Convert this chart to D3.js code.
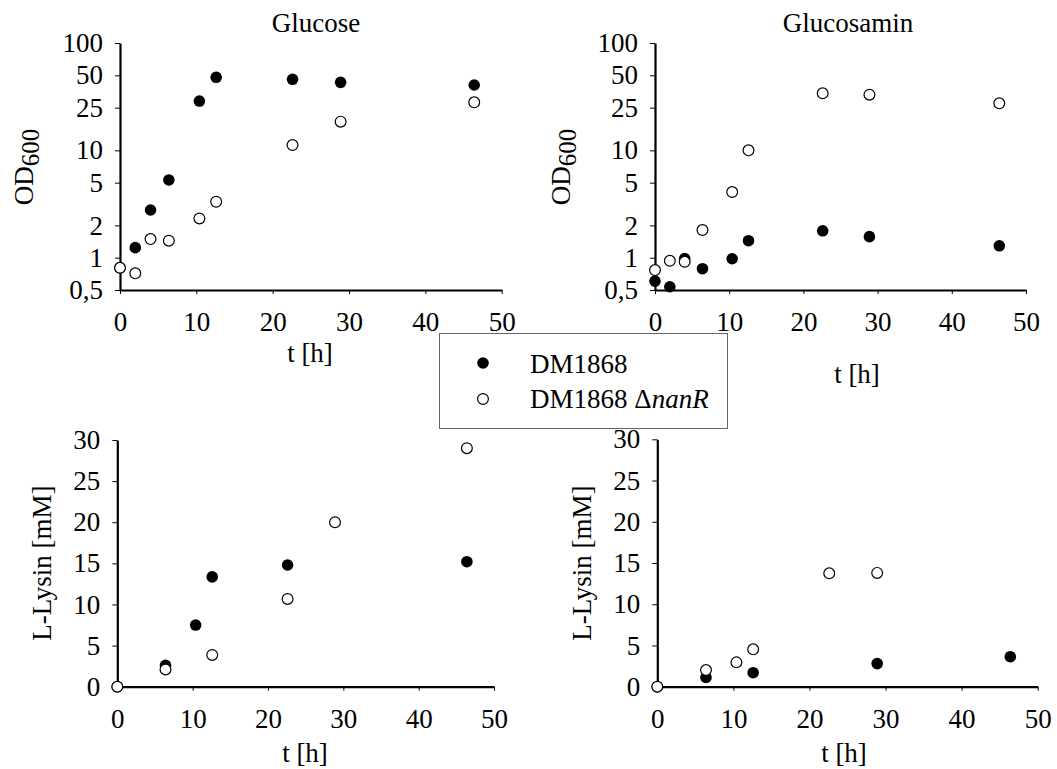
<!DOCTYPE html>
<html>
<head>
<meta charset="utf-8">
<script src="https://cdn.jsdelivr.net/npm/d3@7"></script>
<style>
  html, body { margin: 0; padding: 0; background: #fff; }
  svg { display: block; }
  svg text { font-family: 'Liberation Serif', 'DejaVu Serif', serif; fill: #000; }
</style>
</head>
<body>
<svg id="chart" width="1057" height="769"></svg>
<script>
// ---- data ----
const timesOD = [0, 2, 4, 6.4, 10.4, 12.6, 22.6, 28.9, 46.4];
const glucoseOD_DM = [0.805, 1.24, 2.78, 5.3, 28.8, 47.9, 45.9, 43, 40.6];
const glucoseOD_nanR = [0.805, 0.715, 1.49, 1.44, 2.32, 3.32, 11.2, 18.5, 28];
const glucosaminOD_DM = [0.605, 0.536, 0.98, 0.79, 0.977, 1.44, 1.78, 1.57, 1.29];
const glucosaminOD_nanR = [0.766, 0.935, 0.916, 1.81, 4.09, 10, 34, 33, 27.4];

const timesLys = [0, 6.4, 10.4, 12.6, 22.6, 28.9, 46.4];
const glucoseLys_DM = [0, 2.6, 7.5, 13.35, 14.8, null, 15.2];
const glucoseLys_nanR = [0, 2.1, null, 3.86, 10.67, 20.0, 29.0];
const glucosaminLys_DM = [0, 1.13, null, 1.7, null, 2.8, 3.64];
const glucosaminLys_nanR = [0, 2.02, 2.95, 4.53, 13.75, 13.8, null];

const xTicks = [0, 10, 20, 30, 40, 50];
const odTicks = [0.5, 1, 2, 5, 10, 25, 50, 100];
const lysTicks = [0, 5, 10, 15, 20, 25, 30];
const panelTitles = ["Glucose", "Glucosamin"];
const seriesNames = ["DM1868", "DM1868 \u0394", "nanR"];

// ---- drawing ----
const svg = d3.select("#chart");
const FS = 27;
const FONT = "'Liberation Serif', 'DejaVu Serif', serif";
const fmt = v => String(v).replace(".", ",");

function panel(cfg) {
  const g = svg.append("g");
  const x = d3.scaleLinear().domain([0, 50]).range([cfg.x0, cfg.x1]);
  const y = cfg.log
    ? d3.scaleLog().domain([0.5, 100]).range([cfg.y0, cfg.y1])
    : d3.scaleLinear().domain([0, 30]).range([cfg.y0, cfg.y1]);

  const xa = g.append("g").attr("transform", `translate(0,${cfg.y0})`)
    .call(d3.axisBottom(x).tickValues(xTicks).tickSize(4).tickSizeOuter(0).tickPadding(18));
  const ya = g.append("g").attr("transform", `translate(${cfg.x0},0)`)
    .call(d3.axisLeft(y).tickValues(cfg.log ? odTicks : lysTicks).tickFormat(fmt)
      .tickSize(5).tickSizeOuter(0).tickPadding(12));
  [xa, ya].forEach(a => {
    a.attr("font-family", FONT).attr("font-size", FS);
    a.select(".domain").attr("stroke", "#000").attr("stroke-width", 2.2);
    a.selectAll(".tick line").attr("stroke", "#000").attr("stroke-width", 1);
    a.selectAll("text").style("font-size", FS + "px").style("font-family", FONT).attr("fill", "#000");
  });

  g.append("text").attr("x", cfg.xtX).attr("y", cfg.xtY)
    .attr("text-anchor", "middle").style("font-size", FS + "px").text("t [h]");
  const yt = g.append("text")
    .attr("transform", `translate(${cfg.ytX},${cfg.ytY}) rotate(-90)`)
    .attr("text-anchor", "middle").style("font-size", FS + "px");
  if (cfg.log) {
    yt.append("tspan").text("OD");
    yt.append("tspan").attr("dy", 6).style("font-size", "25px").text("600");
  } else {
    yt.text("L-Lysin [mM]");
  }
  if (cfg.title) {
    g.append("text").attr("x", cfg.tX).attr("y", cfg.tY)
      .attr("text-anchor", "middle").style("font-size", FS + "px").text(cfg.title);
  }

  const pts = (vals) => cfg.times.map((t, i) => ({ t, v: vals[i] })).filter(d => d.v != null);
  g.append("g").selectAll("circle").data(pts(cfg.dm)).join("circle")
    .attr("cx", d => x(d.t)).attr("cy", d => y(d.v)).attr("r", 5.8).attr("fill", "#000");
  g.append("g").selectAll("circle").data(pts(cfg.nan)).join("circle")
    .attr("cx", d => x(d.t)).attr("cy", d => y(d.v)).attr("r", 5.4)
    .attr("fill", "#fff").attr("stroke", "#000").attr("stroke-width", 1.2);
}

panel({ log: true, x0: 120, x1: 501.7, y0: 290, y1: 43, times: timesOD,
  dm: glucoseOD_DM, nan: glucoseOD_nanR, title: panelTitles[0], tX: 316, tY: 32,
  xtX: 310, xtY: 362, ytX: 33, ytY: 167 });
panel({ log: true, x0: 655, x1: 1026, y0: 290, y1: 43, times: timesOD,
  dm: glucosaminOD_DM, nan: glucosaminOD_nanR, title: panelTitles[1], tX: 848, tY: 32,
  xtX: 857, xtY: 383, ytX: 570, ytY: 167 });
panel({ log: false, x0: 117.3, x1: 494, y0: 686.7, y1: 440, times: timesLys,
  dm: glucoseLys_DM, nan: glucoseLys_nanR,
  xtX: 305, xtY: 762, ytX: 51, ytY: 563 });
panel({ log: false, x0: 657.3, x1: 1037.7, y0: 686.7, y1: 439.3, times: timesLys,
  dm: glucosaminLys_DM, nan: glucosaminLys_nanR,
  xtX: 844, xtY: 762, ytX: 591, ytY: 563 });

const lg = svg.append("g");
lg.append("rect").attr("x", 439.5).attr("y", 333.5).attr("width", 288).attr("height", 95)
  .attr("fill", "#fff").attr("stroke", "#666").attr("stroke-width", 1);
lg.append("circle").attr("cx", 483).attr("cy", 363).attr("r", 5.8).attr("fill", "#000");
lg.append("circle").attr("cx", 483).attr("cy", 399).attr("r", 5.4)
  .attr("fill", "#fff").attr("stroke", "#000").attr("stroke-width", 1.2);
lg.append("text").attr("x", 530).attr("y", 373).style("font-size", FS + "px").text(seriesNames[0]);
const t2 = lg.append("text").attr("x", 530).attr("y", 408).style("font-size", FS + "px");
t2.append("tspan").text(seriesNames[1]);
t2.append("tspan").style("font-style", "italic").text(seriesNames[2]);
</script>
</body>
</html>
